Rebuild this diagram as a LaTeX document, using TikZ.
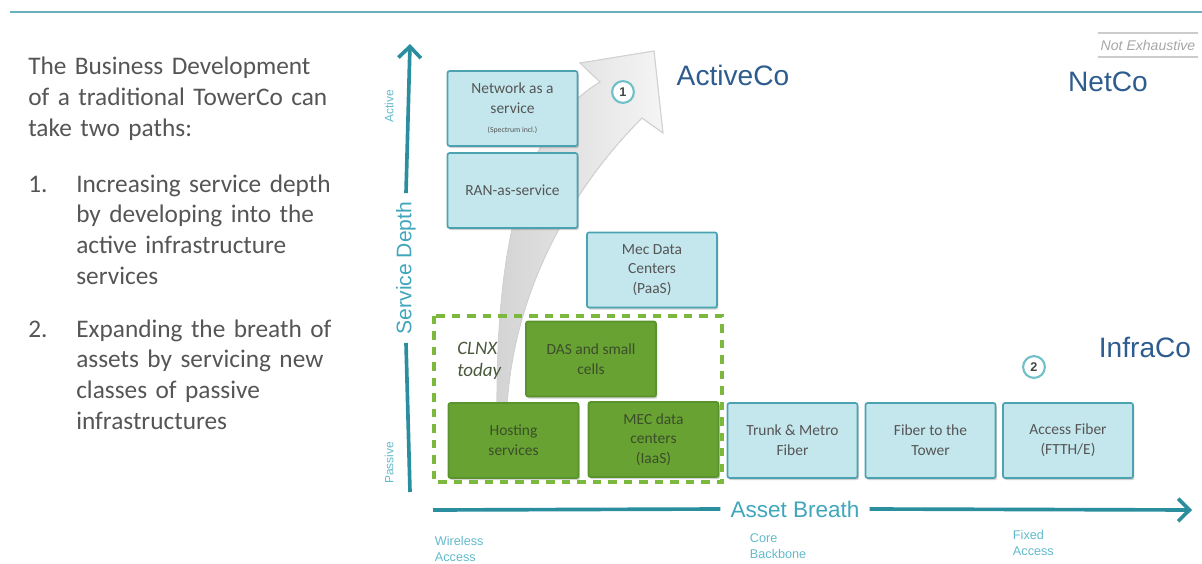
\documentclass[tikz,border=0pt]{standalone}
\usepackage{fontspec}
\setmainfont{Carlito}
\newfontfamily\arialfont{Liberation Sans}
\usetikzlibrary{arrows.meta,shadows,positioning}

\definecolor{tealaxis}{HTML}{2A8E9E}
\definecolor{teallabel}{HTML}{3FA6BB}
\definecolor{tealsmall}{HTML}{62BACB}
\definecolor{topline}{HTML}{6BB0BE}
\definecolor{boxfill}{HTML}{C4E7ED}
\definecolor{boxedge}{HTML}{4BA3B2}
\definecolor{grfill}{HTML}{67A232}
\definecolor{gredge}{HTML}{5A922C}
\definecolor{grdash}{HTML}{7DB83E}
\definecolor{grtext}{HTML}{3C4E2A}
\definecolor{coblue}{HTML}{2E5C8E}
\definecolor{bodygray}{HTML}{555555}
\definecolor{ringteal}{HTML}{6FC0C8}

\tikzset{
  svcbox/.style={draw=boxedge, line width=1.2pt, fill=boxfill, rounded corners=1.5pt,
    minimum width=3.25cm, minimum height=1.875cm, align=center, text=bodygray,
    font=\fontsize{11}{14}\selectfont,
    drop shadow={shadow xshift=1pt, shadow yshift=-1.5pt, opacity=.3, fill=black!60}},
  pasbox/.style={svcbox, draw=gredge, fill=grfill, text=grtext},
  axisline/.style={draw=tealaxis, line width=2.6pt},
  axistip/.style={axisline, -{Straight Barb[length=8pt,width=16pt]}},
  colabel/.style={font=\arialfont\fontsize{20}{24}\selectfont, text=coblue},
  pathmark/.style={circle, draw=ringteal, line width=1.5pt, fill=white, minimum size=15.5pt,
    inner sep=0pt, font=\arialfont\bfseries\fontsize{9}{9}\selectfont, text=bodygray!80!black},
  endlabel/.style={font=\arialfont\fontsize{9}{12}\selectfont, text=tealsmall, anchor=base west,
    align=left, text width=3cm},
  bodytext/.style={font=\fontsize{18}{22}\selectfont, text=bodygray, anchor=base west,
    align=left, text width=8cm, inner sep=0pt}
}

\begin{document}
\begin{tikzpicture}[x=0.025cm, y=-0.025cm]
  \useasboundingbox (0,0) rectangle (1202,564);
  \draw[topline, line width=2pt] (10,12) -- (1202,12);

  \node[bodytext] (intro) at (28,75) {The Business Development\\of a traditional TowerCo can\\take two paths:};
  \node[bodytext, text width=1.5cm] (num1) at (28,192) {1.};
  \node[bodytext, text width=7cm] (path1) at (76,192) {Increasing service depth\\by developing into the\\active infrastructure\\services};
  \node[bodytext, text width=1.5cm] (num2) at (28,337) {2.};
  \node[bodytext, text width=7cm] (path2) at (76,337) {Expanding the breath of\\assets by servicing new\\classes of passive\\infrastructures};

  \filldraw[draw=gray!35, line width=.8pt, left color=gray!34, right color=gray!8]
    (497,405) .. controls (497,250) and (520,130) .. (600,82) -- (580,63) -- (654,51)
    -- (663,133) -- (642,118) .. controls (580,180) and (515,280) .. (507,405) -- cycle;

  \node[svcbox] (naas) at (512.5,108.5) {Network as a\\service\\{\fontsize{5.5}{7}\selectfont (Spectrum incl.)}};
  \node[svcbox] (raas) at (512.5,190.5) {RAN-as-service};
  \node[svcbox] (mecpaas) at (652,270) {Mec Data\\Centers\\(PaaS)};
  \node[pasbox] (das) at (591,359) {DAS and small\\cells};
  \node[pasbox] (hosting) at (513.5,440.5) {Hosting\\services};
  \node[pasbox] (meciaas) at (653.5,439.5) {MEC data\\centers\\(IaaS)};
  \node[svcbox] (trunk) at (792.5,440.5) {Trunk \& Metro\\Fiber};
  \node[svcbox] (fttt) at (930.5,440.5) {Fiber to the\\Tower};
  \node[svcbox] (access) at (1068,440.5) {Access Fiber\\(FTTH/E)};

  \draw[grdash, line width=2.2pt, dash pattern=on 6pt off 5pt] (434,316) rectangle (722,482);
  \node[font=\itshape\fontsize{13.5}{16}\selectfont, text=grtext!80!gray, anchor=base west,
    align=left, text width=2cm, inner sep=0pt] (clnx) at (457,354) {CLNX\\today};

  \node[pathmark] (mark1) at (623,92) {1};
  \node[pathmark] (mark2) at (1034,367) {2};

  \node[colabel] (activeco) at (733,75) {ActiveCo};
  \node[colabel] (netco) at (1108,82) {NetCo};
  \node[colabel] (infraco) at (1145,347) {InfraCo};

  \node[font=\arialfont\itshape\fontsize{10}{12}\selectfont, text=gray!70, minimum width=2.5cm,
    inner xsep=0pt, inner ysep=4.5pt] (notex) at (1148,45) {Not Exhaustive};
  \draw[gray!40, line width=1.2pt] (notex.north west) -- (notex.north east);
  \draw[gray!40, line width=1.2pt] (notex.south west) -- (notex.south east);

  % service depth axis
  \coordinate (vbot) at (410,492);
  \coordinate (vtop) at (410,44);
  \node[rotate=90, font=\arialfont\fontsize{15}{18}\selectfont, text=teallabel, inner xsep=6pt] (sdepth) at (406,268) {Service Depth};
  \draw[axisline] (vbot) -- (sdepth.west);
  \draw[axistip] (sdepth.east) -- (vtop);
  \node[rotate=90, font=\arialfont\fontsize{8.5}{10}\selectfont, text=tealsmall] (active) at (389,106) {Active};
  \node[rotate=90, font=\arialfont\fontsize{8.5}{10}\selectfont, text=tealsmall] (passive) at (389,463) {Passive};

  % asset breath axis
  \coordinate (hleft) at (433,510);
  \coordinate (hright) at (1192,510);
  \node[font=\arialfont\fontsize{16}{19}\selectfont, text=teallabel, inner xsep=7pt] (abreath) at (795,509) {Asset Breath};
  \draw[axisline] (hleft) -- (abreath.west);
  \draw[axistip] (abreath.east) -- (hright);

  \node[endlabel] (wireless) at (430,545) {Wireless\\Access};
  \node[endlabel] (core) at (745,542) {Core\\Backbone};
  \node[endlabel] (fixed) at (1008,539) {Fixed\\Access};
\end{tikzpicture}
\end{document}
